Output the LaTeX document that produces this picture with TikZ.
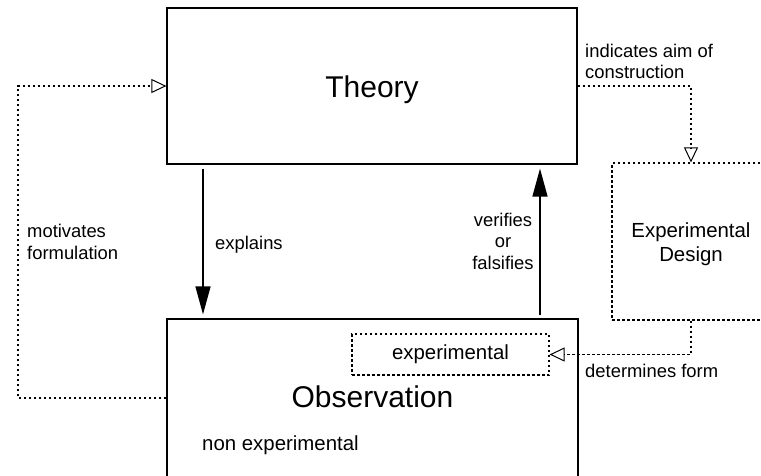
\documentclass[tikz,border=0pt]{standalone}
\usepackage{fontspec}
\setmainfont{Liberation Sans}
\usetikzlibrary{arrows.meta}
\begin{document}
\begin{tikzpicture}[x=1pt,y=-1pt,
  solidbox/.style={draw, line width=1.2pt, inner sep=0pt},
  dotbox/.style={draw, line width=1.2pt, dash pattern=on 2.5pt off 2.5pt, inner sep=0pt},
  bigarrow/.style={line width=1.3pt, -{Triangle[length=28pt,width=15pt]}},
  dotarrow/.style={line width=1.2pt, dash pattern=on 2.5pt off 2.5pt, -{Triangle[open,length=15pt,width=14pt,line width=1pt]}},
  lbl/.style={inner sep=0pt, font=\fontsize{18.4}{21.5}\selectfont},
  boxtxt/.style={inner sep=0pt, font=\fontsize{20.4}{24}\selectfont},
  bigtxt/.style={inner sep=0pt, font=\fontsize{30}{34}\selectfont}]
\useasboundingbox (0,0) rectangle (761,475);
\node[solidbox, minimum width=410pt, minimum height=156pt] (theory) at (372,86) {};
\node[solidbox, minimum width=411pt, minimum height=158pt] (obs) at (372.5,398) {};
\node[dotbox, minimum width=158pt, minimum height=157pt] (ed) at (691,241.5) {};
\node[dotbox, minimum width=197pt, minimum height=41pt, boxtxt] (exp) at (450.5,354.5) {experimental};
\node[bigtxt, anchor=base] (ttheory) at (372,97) {Theory};
\node[bigtxt, anchor=base] (tobs) at (372.5,407) {Observation};
\node[boxtxt, align=center] (ted) at (691,244.7) {Experimental\\Design};
\node[boxtxt, anchor=base west] (nonexp) at (202,450) {non experimental};
\coordinate (exx) at (203,0);
\coordinate (vfx) at (540,0);
\coordinate (lft) at (18,398);
\draw[bigarrow, shorten <=4pt, shorten >=4pt] (theory.south -| exx) -- (obs.north -| exx);
\draw[bigarrow, shorten <=3pt, shorten >=4pt] (obs.north -| vfx) -- (theory.south -| vfx);
\draw[dotarrow] (theory.east) -| (ed.north);
\draw[dotarrow] (ed.south) |- (exp.east);
\draw[dotarrow] (obs.west) -- (lft) |- (theory.west);
\node[lbl, anchor=base west] (lexp) at (215,249) {explains};
\node[lbl, align=center] (lver) at (503,241) {verifies\\or\\falsifies};
\node[lbl, align=left, anchor=west] (lmot) at (27,242) {motivates\\formulation};
\node[lbl, align=left, anchor=west] (lind) at (585,61.5) {indicates aim of\\construction};
\node[lbl, anchor=base west] (ldet) at (585,377) {determines form};
\end{tikzpicture}
\end{document}
